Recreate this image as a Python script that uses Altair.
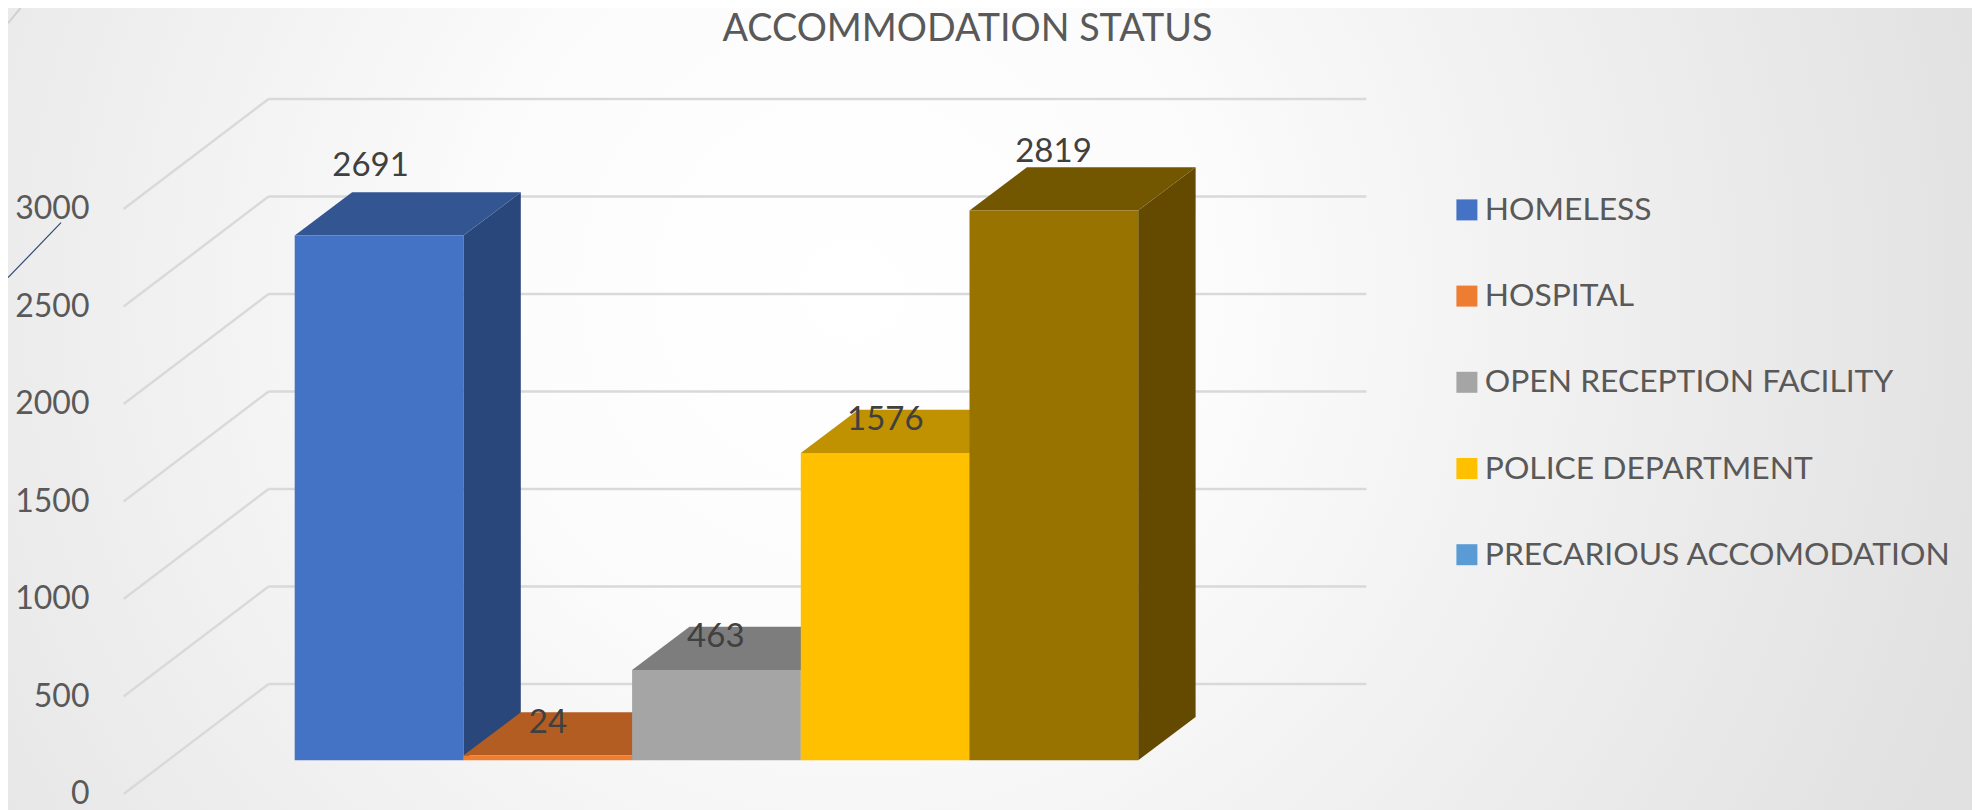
import altair as alt
import pandas as pd

# ---- chart values ----
TITLE = "ACCOMMODATION STATUS"
CATEGORIES = ["HOMELESS", "HOSPITAL", "OPEN RECEPTION FACILITY", "POLICE DEPARTMENT",
              "PRECARIOUS ACCOMODATION", "(NOT IN LEGEND)"]
LEGEND_ENTRIES = CATEGORIES[:5]
COLORS = ["#4472C4", "#ED7D31", "#A5A5A5", "#FFC000", "#5B9BD5", "#997300"]
BAR_CATEGORIES = ["HOMELESS", "HOSPITAL", "OPEN RECEPTION FACILITY", "POLICE DEPARTMENT", "(NOT IN LEGEND)"]
BAR_VALUES = [2691, 24, 463, 1576, 2819]
TOP_SHADES = ["#335693", "#B45D22", "#7D7D7D", "#C09100", "#735700"]
SIDE_SHADES = ["#29477B", "#8F4A1C", "#636363", "#997300", "#634A00"]
TICKS = [0, 500, 1000, 1500, 2000, 2500, 3000]

# ---- layout (page pixels / value units) ----
W, H = 1964, 802
ORIGIN = 8
PX_PER_UNIT = 0.195
WALL_ZERO_PY = 684.0


def val(py):
    return (WALL_ZERO_PY - py) / PX_PER_UNIT


BASE = val(760.3)                # value level of the bars' front base
DEPTH_V = 43.3 / PX_PER_UNIT     # bar depth, vertical
DEPTH_X = 57.4                   # bar depth, horizontal
BAR_X0 = 294.7
BAR_W = 168.7
WALL_LEFT = 268.6
WALL_RIGHT = 1366.4
FLOOR_LEFT = 123.6
FLOOR_DROP = 110 / PX_PER_UNIT
TICK_LABEL_RIGHT = 89.5
LABEL_SHIFT = [75.9, 84.6, 83.7, 84.5, 84.0]
LABEL_LIFT = [70, 33, 33, 33, 59]

x_scale = alt.Scale(domain=[ORIGIN, ORIGIN + W], nice=False, zero=False)
y_scale = alt.Scale(domain=[val(ORIGIN + H), val(ORIGIN)], nice=False, zero=False)
X = lambda f: alt.X(f, type="quantitative", scale=x_scale, axis=None)
Y = lambda f: alt.Y(f, type="quantitative", scale=y_scale, axis=None)

# ---- tables ----
fronts, sides, tops, labels = [], [], [], []
for i, (c, v, ts, ss) in enumerate(zip(BAR_CATEGORIES, BAR_VALUES, TOP_SHADES, SIDE_SHADES)):
    left = BAR_X0 + i * BAR_W
    right = left + BAR_W
    fronts.append(dict(category=c, value=v, x=left, x2=right, y=BASE + v, y2=BASE))
    sides += [
        dict(bar=c, shade=ss, x=right, y=BASE + v, y2=BASE),
        dict(bar=c, shade=ss, x=right + DEPTH_X, y=BASE + v + DEPTH_V, y2=BASE + DEPTH_V),
    ]
    tops += [
        dict(bar=c, shade=ts, y=BASE + v, x=left, x2=right),
        dict(bar=c, shade=ts, y=BASE + v + DEPTH_V, x=left + DEPTH_X, x2=right + DEPTH_X),
    ]
    labels.append(dict(x=left + LABEL_SHIFT[i], y=BASE + v + LABEL_LIFT[i] / PX_PER_UNIT, value=v))

wall = pd.DataFrame([dict(x=WALL_LEFT, x2=WALL_RIGHT, y=t) for t in TICKS])
floor = pd.DataFrame(
    [dict(t=t, x=FLOOR_LEFT, y=t - FLOOR_DROP) for t in TICKS]
    + [dict(t=t, x=WALL_LEFT, y=t) for t in TICKS]
)
tick_labels = pd.DataFrame(
    [dict(t=t, x=TICK_LABEL_RIGHT, y=t - FLOOR_DROP) for t in TICKS]
)

# ---- layers ----
background = alt.Chart(pd.DataFrame({"a": [0]})).mark_rect(
    fill=alt.RadialGradient(
        gradient="radial", x1=0.43, y1=0.39, r1=0.0, x2=0.43, y2=0.39, r2=0.6,
        stops=[
            alt.GradientStop(offset=0.0, color="#ffffff"),
            alt.GradientStop(offset=0.3, color="#fcfcfc"),
            alt.GradientStop(offset=1.0, color="#e2e1e2"),
        ],
    )
).encode(x=alt.value(0), x2=alt.value(W), y=alt.value(-300), y2=alt.value(H + 498))

wall_lines = alt.Chart(wall).mark_rule(color="#d9d9d9", strokeWidth=2.4).encode(
    x=X("x"), x2="x2:Q", y=Y("y")
)
floor_lines = alt.Chart(floor).mark_line(color="#d9d9d9", strokeWidth=2.4).encode(
    x=X("x"), y=Y("y"), detail="t:N"
)

deco_dark = alt.Chart(pd.DataFrame({"x": [8, 61], "y": [val(277.7), val(222.7)]})).mark_line(
    color="#2f4a73", strokeWidth=1.2
).encode(x=X("x"), y=Y("y"))
deco_grey = alt.Chart(pd.DataFrame({"x": [8, 20.5], "y": [val(23.2), val(8)]})).mark_line(
    color="#cfd0d6", strokeWidth=2
).encode(x=X("x"), y=Y("y"))

tick_layer = alt.Chart(tick_labels).mark_text(
    font="Lato", fontSize=32, color="#595959", align="right", baseline="middle"
).encode(x=X("x"), y=Y("y"), text=alt.Text("t:Q", format="d"))

side_layer = alt.Chart(pd.DataFrame(sides)).mark_area(opacity=1).encode(
    x=X("x"), y=Y("y"), y2="y2:Q",
    fill=alt.Fill("shade:N", scale=None), detail="bar:N",
)
top_layer = alt.Chart(pd.DataFrame(tops)).mark_area(orient="horizontal", opacity=1).encode(
    y=Y("y"), x=X("x"), x2="x2:Q",
    fill=alt.Fill("shade:N", scale=None), detail="bar:N",
)
front_layer = alt.Chart(pd.DataFrame(fronts)).mark_rect().encode(
    x=X("x"), x2="x2:Q",
    y=Y("y"),
    y2="y2:Q",
    color=alt.Color("category:N", scale=alt.Scale(domain=CATEGORIES, range=COLORS), legend=alt.Legend(
        values=LEGEND_ENTRIES, title=None, orient="none", legendX=1443, legendY=186,
        symbolType="square", symbolSize=441, symbolStrokeWidth=0, symbolOpacity=1,
        labelFont="Lato", labelFontSize=31.8, labelColor="#595959", labelLimit=600,
        labelOffset=2, rowPadding=53.2, padding=0,
    )),
)
label_layer = alt.Chart(pd.DataFrame(labels)).mark_text(
    font="Lato", fontSize=33, color="#404040", align="center", baseline="middle"
).encode(x=X("x"), y=Y("y"), text=alt.Text("value:Q", format="d"))

title_layer = alt.Chart(pd.DataFrame({"t": [TITLE], "x": [967.5], "y": [val(41)]})).mark_text(
    font="Lato", fontSize=37.7, color="#595959", align="center", baseline="alphabetic"
).encode(x=X("x"), y=Y("y"), text="t:N")

chart = alt.layer(
    background, wall_lines, floor_lines, deco_dark, deco_grey, tick_layer,
    side_layer, top_layer, front_layer, label_layer, title_layer,
).properties(
    width=W, height=H, padding=0,
    autosize=alt.AutoSizeParams(type="none"),
).configure_view(stroke=None)

chart.save("out.html", embed_options={"renderer": "svg", "actions": False})
